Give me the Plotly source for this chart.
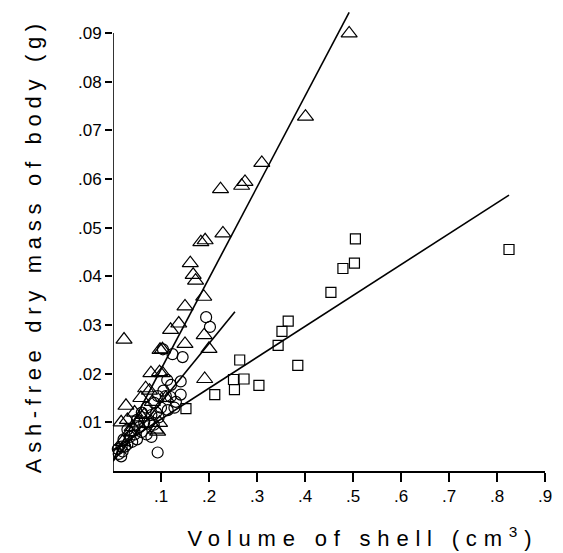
import plotly.graph_objects as go

# Triangles
tri_x = [0.492, 0.401, 0.310, 0.224, 0.275, 0.268, 0.229, 0.183, 0.192, 0.161, 0.167, 0.172,
         0.189, 0.150, 0.137, 0.120, 0.190, 0.023, 0.150, 0.200, 0.098, 0.103, 0.079, 0.097,
         0.103, 0.191, 0.068, 0.076, 0.058, 0.082, 0.027, 0.045, 0.017, 0.030, 0.060, 0.097,
         0.093, 0.040, 0.050, 0.065, 0.110, 0.035, 0.020, 0.089]
tri_y = [0.0899, 0.0728, 0.0633, 0.0579, 0.0594, 0.0586, 0.0488, 0.0470, 0.0474, 0.0427, 0.0403, 0.0391,
         0.0358, 0.0338, 0.0303, 0.0290, 0.0279, 0.0270, 0.0261, 0.0251, 0.0249, 0.0250, 0.0201, 0.0203,
         0.0201, 0.0189, 0.0170, 0.0165, 0.0150, 0.0142, 0.0134, 0.0120, 0.0100, 0.0105, 0.0110, 0.0099,
         0.0081, 0.0090, 0.0098, 0.0115, 0.0150, 0.0080, 0.0060, 0.0085]

# Circles
cir_x = [0.194, 0.202, 0.104, 0.124, 0.145, 0.113, 0.141, 0.121, 0.141, 0.093, 0.110, 0.120,
         0.131, 0.114, 0.128, 0.100, 0.090, 0.080, 0.075, 0.085, 0.095, 0.065, 0.055, 0.060,
         0.070, 0.080, 0.045, 0.035, 0.040, 0.030, 0.025, 0.020, 0.017, 0.012, 0.010, 0.050,
         0.093, 0.030, 0.022, 0.060, 0.070, 0.050, 0.105, 0.086, 0.018]
cir_y = [0.0316, 0.0296, 0.0250, 0.0240, 0.0234, 0.0187, 0.0184, 0.0177, 0.0157, 0.0154, 0.0154, 0.0152,
         0.0142, 0.0125, 0.0130, 0.0130, 0.0120, 0.0115, 0.0100, 0.0095, 0.0110, 0.0100, 0.0090, 0.0080,
         0.0075, 0.0070, 0.0075, 0.0070, 0.0060, 0.0055, 0.0050, 0.0040, 0.0030, 0.0035, 0.0045, 0.0065,
         0.0038, 0.0085, 0.0065, 0.0120, 0.0130, 0.0105, 0.0165, 0.0140, 0.0050]

# Squares
sq_x = [0.505, 0.825, 0.503, 0.479, 0.454, 0.365, 0.352, 0.344, 0.385, 0.304, 0.264, 0.251,
        0.273, 0.253, 0.212, 0.152]
sq_y = [0.0477, 0.0455, 0.0427, 0.0416, 0.0367, 0.0308, 0.0287, 0.0258, 0.0217, 0.0176, 0.0228, 0.0188,
        0.0189, 0.0167, 0.0157, 0.0128]

# Regression lines: (intercept, slope, x_end)
tri_fit = (0.0022, 0.187, 0.492)
cir_fit = (0.0020, 0.121, 0.254)
sq_fit = (0.0043, 0.0635, 0.825)

x_ticks = [0.1, 0.2, 0.3, 0.4, 0.5, 0.6, 0.7, 0.8, 0.9]
x_labels = [".1", ".2", ".3", ".4", ".5", ".6", ".7", ".8", ".9"]
y_ticks = [0.01, 0.02, 0.03, 0.04, 0.05, 0.06, 0.07, 0.08, 0.09]
y_labels = [".01", ".02", ".03", ".04", ".05", ".06", ".07", ".08", ".09"]

x_title = "Volume of shell (cm<sup>3</sup>)"
y_title = "Ash-free dry mass of body (g)"

fig = go.Figure()

for (b0, b1, xe) in [tri_fit, cir_fit, sq_fit]:
    fig.add_trace(go.Scatter(x=[0, xe], y=[b0, b0 + b1 * xe], mode="lines",
                             line=dict(color="black", width=1.6), showlegend=False,
                             hoverinfo="skip"))

mk_line = dict(color="black", width=1.2)
fig.add_trace(go.Scatter(x=sq_x, y=sq_y, mode="markers", cliponaxis=False, showlegend=False,
                         marker=dict(symbol="square-open", size=10, color="black", line=mk_line)))
fig.add_trace(go.Scatter(x=cir_x, y=cir_y, mode="markers", cliponaxis=False, showlegend=False,
                         marker=dict(symbol="circle-open", size=11, color="black", line=mk_line)))
fig.add_trace(go.Scatter(x=tri_x, y=tri_y, mode="markers", cliponaxis=False, showlegend=False,
                         marker=dict(symbol="triangle-up-open", size=14, color="black", line=mk_line)))

font = "Liberation Sans, Arial, sans-serif"
fig.update_layout(
    width=563, height=553,
    margin=dict(l=113, r=13, t=11, b=82),
    paper_bgcolor="white", plot_bgcolor="white",
    font=dict(family=font, color="black"),
    shapes=[dict(type="line", xref="x", yref="y", x0=0, x1=0, y0=0, y1=0.09,
                 line=dict(color="black", width=1.6))],
    annotations=[
        dict(text=x_title, xref="paper", yref="paper", x=0.579, y=-0.1435,
             xanchor="center", yanchor="middle", showarrow=False,
             font=dict(size=22, family=font, color="black")),
        dict(text=y_title, xref="paper", yref="paper", x=-0.183, y=0.49, textangle=-90,
             xanchor="center", yanchor="middle", showarrow=False,
             font=dict(size=22, family=font, color="black")),
    ],
)
fig.update_xaxes(range=[0, 0.9], showgrid=False, zeroline=False, showline=True,
                 linecolor="black", linewidth=1.6, ticks="outside", ticklen=9, tickwidth=1.6,
                 tickcolor="black", tickvals=x_ticks, ticktext=x_labels,
                 tickfont=dict(size=17, family=font))
fig.update_yaxes(range=[0, 0.0945], showgrid=False, zeroline=False, showline=False,
                 ticks="outside", ticklen=7, tickwidth=1.6, tickcolor="black",
                 tickvals=y_ticks, ticktext=y_labels, tickfont=dict(size=17, family=font))

post = """
document.body.style.margin = '0';
document.body.style.overflow = 'hidden';
var gd = document.getElementById('{plot_id}');
var t = gd.querySelectorAll('.annotation-text');
if (t.length > 0) { t[0].style.letterSpacing = '6.8px'; }
if (t.length > 1) { t[1].style.letterSpacing = '5.7px'; }
"""

fig.write_html("out.html", post_script=post, config={"displayModeBar": False})
